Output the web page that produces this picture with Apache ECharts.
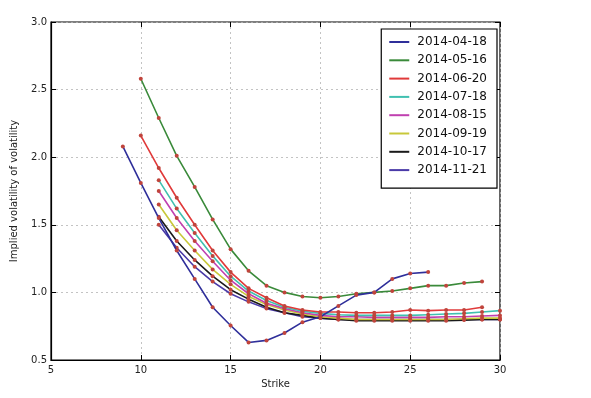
<!DOCTYPE html>
<html>
<head>
<meta charset="utf-8">
<script src="https://cdn.jsdelivr.net/npm/echarts@6/dist/echarts.min.js"></script>
<style>
html,body{margin:0;padding:0;background:#fff;}
#chart{width:591px;height:398px;}
</style>
</head>
<body>
<div id="chart"></div>
<script>
// ---- data ----
const seriesNames = ['2014-04-18','2014-05-16','2014-06-20','2014-07-18','2014-08-15','2014-09-19','2014-10-17','2014-11-21'];

const strikes0418 = [9,10,11,12,13,14,15,16,17,18,19,20,21,22,23,24,25,26];
const vols0418    = [2.08,1.81,1.55,1.31,1.10,0.89,0.755,0.63,0.645,0.70,0.78,0.82,0.90,0.98,1.00,1.10,1.14,1.15];

const strikes0516 = [10,11,12,13,14,15,16,17,18,19,20,21,22,23,24,25,26,27,28,29];
const vols0516    = [2.58,2.29,2.01,1.78,1.54,1.32,1.16,1.05,1.00,0.97,0.96,0.97,0.99,1.00,1.01,1.03,1.05,1.05,1.07,1.08];

const strikes0620 = [10,11,12,13,14,15,16,17,18,19,20,21,22,23,24,25,26,27,28,29];
const vols0620    = [2.16,1.92,1.70,1.50,1.31,1.15,1.03,0.96,0.90,0.87,0.855,0.855,0.85,0.85,0.855,0.87,0.865,0.87,0.87,0.89];

const strikes0718 = [11,12,13,14,15,16,17,18,19,20,21,22,23,24,25,26,27,28,29,30];
const vols0718    = [1.83,1.62,1.44,1.27,1.12,1.01,0.94,0.89,0.86,0.845,0.835,0.83,0.83,0.83,0.83,0.835,0.84,0.845,0.855,0.865];

const strikes0815 = [11,12,13,14,15,16,17,18,19,20,21,22,23,24,25,26,27,28,29,30];
const vols0815    = [1.75,1.55,1.38,1.23,1.09,0.99,0.92,0.88,0.85,0.83,0.82,0.82,0.815,0.815,0.815,0.815,0.82,0.82,0.825,0.83];

const strikes0919 = [11,12,13,14,15,16,17,18,19,20,21,22,23,24,25,26,27,28,29,30];
const vols0919    = [1.65,1.46,1.31,1.17,1.06,0.97,0.91,0.87,0.84,0.82,0.81,0.80,0.80,0.80,0.80,0.80,0.80,0.805,0.81,0.81];

const strikes1017 = [11,12,13,14,15,16,17,18,19,20,21,22,23,24,25,26,27,28,29,30];
const vols1017    = [1.56,1.38,1.24,1.12,1.02,0.95,0.89,0.85,0.83,0.81,0.80,0.79,0.79,0.79,0.79,0.79,0.79,0.795,0.80,0.80];

const strikes1121 = [11,12,13,14,15,16,17,18,19,20,21,22,23,24,25,26,27,28,29,30];
const vols1121    = [1.50,1.33,1.19,1.08,0.99,0.93,0.88,0.85,0.82,0.81,0.80,0.80,0.80,0.80,0.80,0.80,0.80,0.80,0.80,0.80];

const xTicks = [5,10,15,20,25,30];
const yTicks = [0.5,1.0,1.5,2.0,2.5,3.0];

// ---- styling ----
const lineColors = ['#2f2f9a','#3a8a3a','#e03a3a','#40c0b0','#c040b0','#c8c83a','#1a1a1a','#4a3aa8'];
const markerColor = '#c0443c';
const allStrikes = [strikes0418,strikes0516,strikes0620,strikes0718,strikes0815,strikes0919,strikes1017,strikes1121];
const allVols = [vols0418,vols0516,vols0620,vols0718,vols0815,vols0919,vols1017,vols1121];

const font = 'DejaVu Sans';
const chart = echarts.init(document.getElementById('chart'), null, {renderer:'canvas'});

const series = seriesNames.map((name,i)=>({
  name: name,
  type: 'line',
  data: allStrikes[i].map((x,j)=>[x, allVols[i][j]]),
  symbol: 'circle',
  symbolSize: 4,
  showSymbol: true,
  smooth: false,
  lineStyle: {color: lineColors[i], width: 1.6},
  itemStyle: {color: markerColor, borderWidth: 0},
  emphasis: {disabled: true},
  animation: false,
  z: 2 + (seriesNames.length - i)
}));

const axisCommonTick = {show:true, inside:true, length:5, lineStyle:{color:'#000', width:1}};

const option = {
  backgroundColor: '#fff',
  animation: false,
  grid: {left:51, right:91, top:22, bottom:38, show:true, borderColor:'#000', borderWidth:1.2, backgroundColor:'transparent'},
  legend: {
    orient: 'vertical',
    right: 94,
    top: 29,
    width: 115,
    backgroundColor: '#fff',
    borderColor: '#000',
    borderWidth: 1.2,
    borderRadius: 0,
    padding: [7, 10, 12, 8],
    itemGap: 6.3,
    itemWidth: 20,
    itemHeight: 2,
    textStyle: {fontFamily: font, fontSize: 12, color:'#111', padding:[0,0,0,3]},
    data: seriesNames.map((n,i)=>({name:n, icon:'rect', itemStyle:{color: lineColors[i]}}))
  },
  xAxis: [{
    type: 'value', min: 5, max: 30, interval: 5,
    name: 'Strike', nameLocation: 'middle', nameGap: 17,
    nameTextStyle: {fontFamily: font, fontSize: 10, color:'#222'},
    axisLine: {show:true, onZero:false, lineStyle:{color:'#000', width:1.2}},
    axisTick: axisCommonTick,
    axisLabel: {fontFamily: font, fontSize: 10, color:'#222', margin: 5},
    splitLine: {show:true, lineStyle:{color:'#b4b4b4', type:[2,3], width:0.8}}
  },{
    type: 'value', min: 5, max: 30, interval: 5, position:'top',
    axisLine: {show:false}, axisTick: axisCommonTick, axisLabel:{show:false}, splitLine:{show:false}
  }],
  yAxis: [{
    type: 'value', min: 0.5, max: 3.0, interval: 0.5,
    name: 'Implied volatility of volatility', nameLocation: 'middle', nameGap: 32,
    nameTextStyle: {fontFamily: font, fontSize: 10, color:'#222'},
    axisLine: {show:true, onZero:false, lineStyle:{color:'#000', width:1.2}},
    axisTick: axisCommonTick,
    axisLabel: {fontFamily: font, fontSize: 10, color:'#222', margin: 4, formatter: v => v.toFixed(1)},
    splitLine: {show:true, lineStyle:{color:'#b4b4b4', type:[2,3], width:0.8}}
  },{
    type: 'value', min: 0.5, max: 3.0, interval: 0.5, position:'right',
    axisLine: {show:false}, axisTick: axisCommonTick, axisLabel:{show:false}, splitLine:{show:false}
  }],
  series: series
};
chart.setOption(option);
</script>
</body>
</html>
